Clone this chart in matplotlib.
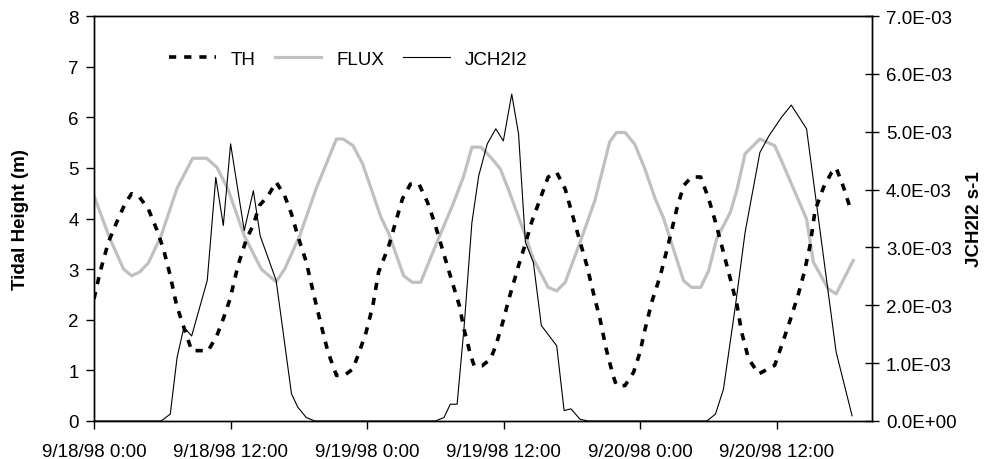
import numpy as np
import matplotlib
matplotlib.use("Agg")
import matplotlib.pyplot as plt

plt.rcParams['font.family'] = ['Liberation Sans', 'DejaVu Sans']
plt.rcParams['font.size'] = 13.5

# hours after 9/18/98 0:00
th_hours = [0, 0.53, 1.26, 2.0, 2.72, 3.3, 4.0, 4.77, 5.5, 6.1, 6.7, 7.26, 7.85, 8.58,
            10.04, 10.8, 11.36, 11.95, 12.65, 13.4, 13.97, 14.55, 15.3, 16.0, 16.75,
            17.35, 17.9, 18.65, 19.4, 19.97, 20.56, 21.3, 22.0, 22.75, 23.3, 23.9,
            24.5, 25.0, 25.9, 26.5, 27.1, 27.8, 28.55, 29.3, 29.9, 30.6, 31.3, 32.1,
            32.5, 33.1, 33.4, 34.1, 34.85, 35.3, 35.9, 36.5, 37.3, 37.9, 38.45, 39.2,
            39.9, 40.65, 41.4, 41.97, 42.55, 43.3, 43.86, 44.45, 45.0, 45.6, 45.9,
            46.65, 47.4, 47.97, 48.4, 49.0, 49.75, 50.5, 51.2, 51.8, 52.5, 53.3, 54.0,
            54.6, 55.3, 55.9, 56.5, 56.9, 57.5, 58.4, 59.8, 60.5, 61.1, 61.85, 62.4,
            62.9, 63.35, 64.1, 64.8, 65.2, 65.8, 66.5]
th_vals = [2.41, 2.94, 3.53, 3.93, 4.29, 4.49, 4.42, 4.19, 3.79, 3.40, 2.87, 2.28, 1.88, 1.39,
           1.39, 1.69, 2.02, 2.41, 3.07, 3.60, 3.86, 4.26, 4.45, 4.72, 4.45,
           4.09, 3.66, 3.14, 2.41, 1.88, 1.36, 0.90, 0.90, 1.03, 1.36, 1.75,
           2.28, 2.94, 3.46, 3.93, 4.39, 4.68, 4.68, 4.32, 3.93, 3.40, 2.87, 2.28,
           1.82, 1.29, 1.09, 1.09, 1.23, 1.49, 1.94, 2.45, 3.07, 3.50, 3.93, 4.39,
           4.82, 4.91, 4.58, 4.12, 3.66, 3.07, 2.54, 2.02, 1.42, 0.90, 0.70,
           0.70, 0.96, 1.36, 1.80, 2.35, 2.87, 3.53, 4.19, 4.65, 4.82, 4.82, 4.39,
           3.93, 3.33, 2.81, 2.28, 1.75, 1.23, 0.93, 1.10, 1.55, 1.95, 2.48, 2.94,
           3.46, 4.16, 4.62, 4.91, 5.00, 4.65, 4.16]

flux_hours = [0, 1.4, 2.6, 3.3, 4.0, 4.77, 5.9, 7.3, 8.67, 9.9, 10.8, 11.77, 13.2, 14.7,
              16.0, 16.75, 18.07, 19.5, 21.3, 21.9, 22.75, 23.6, 25.2, 25.9, 27.2,
              27.96, 28.7, 30.0, 31.5, 32.5, 33.2, 34.0, 34.85, 35.7, 36.5, 37.9, 38.6,
              39.9, 40.65, 41.4, 42.7, 44.0, 45.3, 45.9, 46.65, 47.5, 48.4, 49.3, 50.0,
              51.8, 52.5, 53.3, 54.0, 54.7, 55.9, 56.5, 57.2, 58.5, 59.8, 60.4, 62.6,
              63.2, 64.5, 65.2, 66.7]
flux_vals = [4.45, 3.60, 3.00, 2.87, 2.94, 3.12, 3.66, 4.60, 5.19, 5.19, 5.01, 4.58, 3.66, 3.00,
             2.75, 3.00, 3.66, 4.58, 5.57, 5.57, 5.44, 5.08, 4.03, 3.70, 2.87,
             2.74, 2.74, 3.46, 4.26, 4.85, 5.41, 5.41, 5.21, 4.98, 4.52, 3.66, 3.20,
             2.64, 2.57, 2.74, 3.53, 4.35, 5.51, 5.70, 5.70, 5.47, 4.98, 4.39, 4.03,
             2.77, 2.64, 2.64, 2.97, 3.60, 4.12, 4.58, 5.28, 5.57, 5.44, 5.14, 3.99,
             3.14, 2.61, 2.51, 3.17]

jch_hours = [0, 5.9, 6.7, 7.3, 7.9, 8.58, 9.95, 10.7, 11.36, 12.0, 13.2, 14.0, 14.6, 16.0,
             17.35, 17.9, 18.65, 19.4, 30.0, 30.75, 31.3, 31.9, 32.5, 33.2, 33.8, 34.55,
             35.3, 35.96, 36.7, 37.3, 37.9, 38.6, 39.3, 40.65, 41.3, 41.9, 42.7, 43.4,
             53.85, 54.6, 55.3, 56.35, 57.2, 58.5, 59.3, 60.4, 61.26, 62.6, 65.2, 66.6]
jch_vals = [0, 0, 0.12, 1.10, 1.62, 1.47, 2.43, 4.21, 3.38, 4.79, 3.29, 3.98, 3.20, 2.43,
            0.47, 0.24, 0.06, 0, 0, 0.06, 0.29, 0.29, 1.59, 3.43, 4.24, 4.79,
            5.05, 4.84, 5.65, 4.96, 3.09, 2.74, 1.65, 1.30, 0.18, 0.21, 0.03, 0,
            0, 0.12, 0.55, 1.99, 3.26, 4.64, 4.93, 5.25, 5.46, 5.05, 1.19, 0.09]
jch_vals = np.array(jch_vals) * 1e-3

tick_hours = [0, 12, 24, 36, 48, 60]
tick_labels = ['9/18/98 0:00', '9/18/98 12:00', '9/19/98 0:00',
               '9/19/98 12:00', '9/20/98 0:00', '9/20/98 12:00']

fig = plt.figure(figsize=(9.85, 4.6), dpi=100)
ax = fig.add_axes([94/985, 1 - 422/460, 778/985, 405/460])
ax2 = ax.twinx()

l_flux, = ax.plot(flux_hours, flux_vals, color='#c0c0c0', linewidth=2.3, label='FLUX', zorder=2)
l_th, = ax.plot(th_hours, th_vals, color='black', linewidth=2.6, linestyle=(0, (2.0, 2.2)),
                dash_capstyle='butt', label='TH', zorder=3)
l_jch, = ax2.plot(jch_hours, jch_vals, color='black', linewidth=0.8, label='JCH2I2')

ax.set_xlim(0, 68.35)
ax.set_ylim(0, 8)
ax.set_yticks(range(0, 9))
ax2.set_ylim(0, 7e-3)
ax2.set_yticks(np.arange(0, 7.5e-3, 1e-3))
ax2.set_yticklabels([f"{v:.1E}" for v in np.arange(0, 7.5e-3, 1e-3)])

ax.set_xticks(tick_hours)
ax.set_xticklabels(tick_labels)

ax.tick_params(axis='y', direction='out', length=6, width=1, pad=5)
ax.tick_params(axis='x', direction='out', length=6, width=1, pad=10)
ax2.tick_params(axis='y', direction='inout', length=10, width=1, pad=5)

for a in (ax, ax2):
    for s in a.spines.values():
        s.set_color('black')
        s.set_linewidth(1)

ax.set_ylabel('Tidal Height (m)', fontweight='bold')
ax.yaxis.set_label_coords(-0.083, 0.5)
ax2.set_ylabel('JCH2I2 s-1', fontweight='bold')
ax2.yaxis.set_label_coords(1.121, 0.5)

fig.legend([l_th, l_flux, l_jch], ['TH', 'FLUX', 'JCH2I2'], loc='center left',
           bbox_to_anchor=(169/985, 1 - 60/460), ncol=3, frameon=False,
           borderpad=0, borderaxespad=0, handlelength=2.5, handletextpad=0.8,
           columnspacing=1.0)

fig.savefig('out.png', dpi=100)
